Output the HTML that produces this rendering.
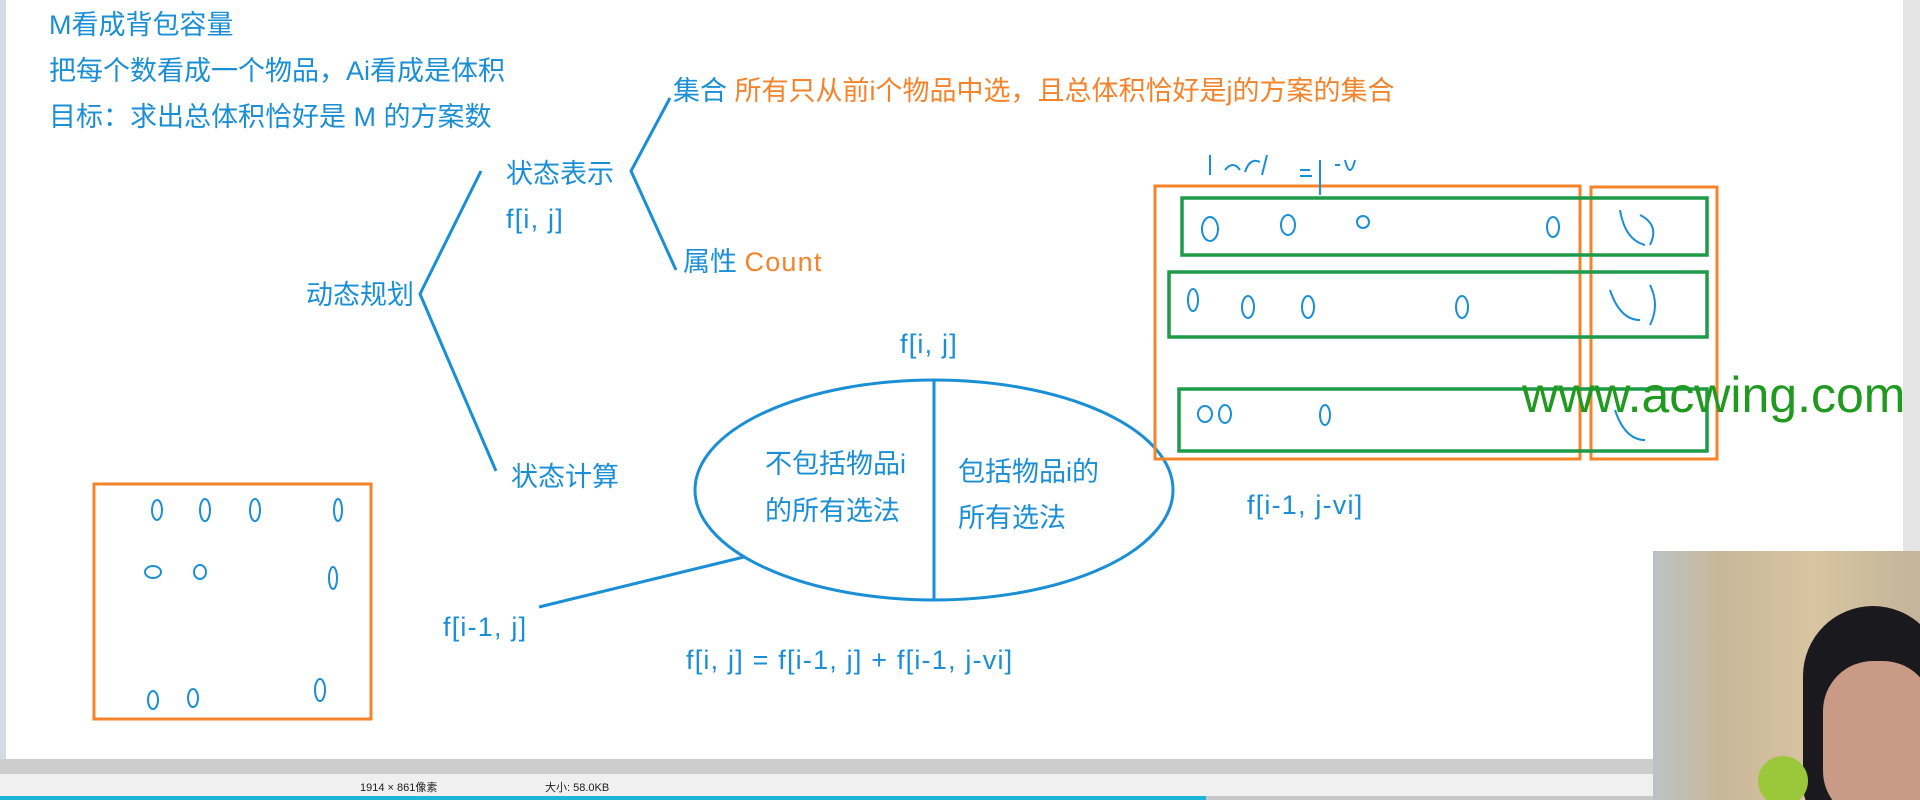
<!DOCTYPE html>
<html><head><meta charset="utf-8"><style>
body{margin:0;width:1920px;height:800px;overflow:hidden;background:#fff;position:relative;font-family:"Liberation Sans","Noto Sans CJK SC",sans-serif;}
.t{position:absolute;color:#1a8fd6;font-size:27px;white-space:nowrap;line-height:1;}
.l{letter-spacing:1.2px;}
.o{color:#f5832a;}
</style></head><body>
<div style="position:absolute;left:0;top:0;width:6px;height:760px;background:#d4dae6"></div>
<div style="position:absolute;left:1903px;top:0;width:17px;height:551px;background:#e4e4e4"></div>
<div class="t" style="left:49px;top:12px">M看成背包容量</div>
<div class="t" style="left:49px;top:58px">把每个数看成一个物品，Ai看成是体积</div>
<div class="t" style="left:49px;top:104px">目标：求出总体积恰好是 M 的方案数</div>
<div class="t" style="left:306px;top:282px">动态规划</div>
<div class="t" style="left:506px;top:161px">状态表示</div>
<div class="t l" style="left:506px;top:206px">f[i, j]</div>
<div class="t" style="left:673px;top:78px">集合 <span class="o">所有只从前i个物品中选，且总体积恰好是j的方案的集合</span></div>
<div class="t" style="left:683px;top:249px">属性 <span class="o l">Count</span></div>
<div class="t" style="left:511px;top:464px">状态计算</div>
<div class="t l" style="left:900px;top:331px">f[i, j]</div>
<div class="t" style="left:765px;top:451px">不包括物品i</div>
<div class="t" style="left:765px;top:498px">的所有选法</div>
<div class="t" style="left:958px;top:459px">包括物品i的</div>
<div class="t" style="left:958px;top:505px">所有选法</div>
<div class="t l" style="left:443px;top:614px">f[i-1, j]</div>
<div class="t l" style="left:686px;top:647px">f[i, j] = f[i-1, j] + f[i-1, j-vi]</div>
<div class="t l" style="left:1247px;top:492px">f[i-1, j-vi]</div>
<svg width="1920" height="800" style="position:absolute;left:0;top:0">
<g stroke="#1a8fd6" stroke-width="3" fill="none">
<polyline points="481,171 420,294 496,471"/>
<polyline points="670,98 631,171 676,270"/>
<ellipse cx="934" cy="490" rx="239" ry="110"/>
<line x1="934" y1="380" x2="934" y2="600"/>
<line x1="744" y1="557" x2="539" y2="607"/>
</g>
<g stroke="#f5832a" stroke-width="3" fill="none">
<rect x="94" y="484" width="277" height="235"/>
<rect x="1155" y="186" width="425" height="273"/>
<rect x="1591" y="187" width="126" height="272"/>
</g>
<g stroke="#1f9a48" stroke-width="3.5" fill="none">
<rect x="1182" y="198" width="525" height="57"/>
<rect x="1169" y="272" width="538" height="65"/>
<rect x="1179" y="389" width="528" height="62"/>
</g>
<g stroke="#1a8fd6" stroke-width="2" fill="none">
<ellipse cx="1210" cy="229" rx="8" ry="12"/><ellipse cx="1288" cy="225" rx="7" ry="10"/><ellipse cx="1363" cy="222" rx="6" ry="6"/><ellipse cx="1553" cy="227" rx="6" ry="10"/>
<ellipse cx="1193" cy="300" rx="5" ry="11"/><ellipse cx="1248" cy="307" rx="6" ry="11"/><ellipse cx="1308" cy="307" rx="6" ry="11"/><ellipse cx="1462" cy="307" rx="6" ry="11"/>
<ellipse cx="1205" cy="414" rx="7" ry="8"/><ellipse cx="1225" cy="414" rx="6" ry="9"/><ellipse cx="1325" cy="415" rx="5" ry="10"/>
<ellipse cx="157" cy="510" rx="5" ry="10"/><ellipse cx="205" cy="510" rx="5" ry="11"/><ellipse cx="255" cy="510" rx="5" ry="11"/><ellipse cx="338" cy="510" rx="4" ry="11"/>
<ellipse cx="153" cy="572" rx="8" ry="6"/><ellipse cx="200" cy="572" rx="6" ry="7"/><ellipse cx="333" cy="578" rx="4" ry="11"/>
<ellipse cx="153" cy="700" rx="5" ry="9"/><ellipse cx="193" cy="698" rx="5" ry="9"/><ellipse cx="320" cy="690" rx="5" ry="11"/>
<path d="M1210 175 l0 -20 M1225 170 q8 -10 15 0 M1245 172 q5 -15 15 -10 M1262 175 l5 -20 M1300 170 l10 0 M1300 176 l12 0 M1320 160 l0 35 M1335 165 l5 0 M1345 160 q5 20 10 0"/>
<path d="M1620 210 q5 30 25 35 M1640 215 q20 10 10 30 M1610 290 q10 30 30 30 M1650 285 q10 20 0 40 M1615 410 q10 30 30 30"/>
</g>
</svg>
<div style="position:absolute;left:1522px;top:370px;font-size:50px;color:#1f9a1f;font-family:'Liberation Sans',sans-serif;line-height:1">www.acwing.com</div>
<div style="position:absolute;left:0;top:759px;width:1653px;height:15px;background:#cdcdcd"></div>
<div style="position:absolute;left:0;top:774px;width:1653px;height:22px;background:#f0f0f0;font-size:11px;color:#222">
<span style="position:absolute;left:360px;top:5px">1914 × 861像素</span><span style="position:absolute;left:545px;top:5px">大小: 58.0KB</span></div>
<div style="position:absolute;left:0;top:796px;width:1206px;height:4px;background:#1bb6d8"></div>
<div style="position:absolute;left:1206px;top:796px;width:447px;height:4px;background:#c8c8c8"></div>
<div style="position:absolute;left:1653px;top:551px;width:267px;height:249px;background:linear-gradient(90deg,#b9c3c5 0%,#c9b79a 25%,#d8c4a0 60%,#c3b59a 100%);overflow:hidden">
<div style="position:absolute;left:150px;top:55px;width:140px;height:220px;border-radius:70px 70px 40px 40px;background:#1a1a1e"></div>
<div style="position:absolute;left:170px;top:110px;width:110px;height:160px;border-radius:50px;background:#c99a85"></div>
<div style="position:absolute;left:105px;top:205px;width:50px;height:50px;border-radius:25px;background:#9ac83a"></div>
</div>
</body></html>
